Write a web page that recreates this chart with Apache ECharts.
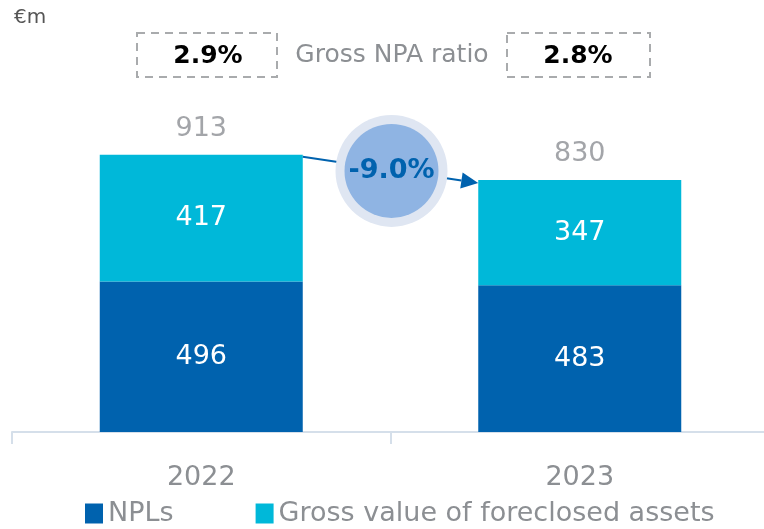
<!DOCTYPE html>
<html>
<head>
<meta charset="utf-8">
<script src="https://cdn.jsdelivr.net/npm/echarts@6/dist/echarts.min.js"></script>
<style>
  html, body { margin: 0; padding: 0; background: #fff; }
  #main { width: 764px; height: 529px; }
</style>
</head>
<body>
<div id="main"></div>
<script>
// data
var years = ['2022', '2023'];
var npls = [496, 483];
var foreclosed = [417, 347];
var totals = [913, 830];
var npaRatio = ['2.9%', '2.8%'];
var change = '-9.0%';

var FONT = 'DejaVu Sans';
var GREY = '#8c8f93';
var DARK = '#0062ae';
var CYAN = '#00b8d9';
var BAR_W = 203;

var myChart = echarts.init(document.getElementById('main'));

// arrow + bubble between the two totals, placed through the axes
function renderChange(params, api) {
    var a = api.coord([0, api.value(1)]);
    var b = api.coord([1, api.value(2)]);
    var x1 = a[0] + BAR_W / 2, y1 = a[1] + 2;
    var x2 = b[0] - BAR_W / 2, y2 = b[1] + 3;
    var cx = (x1 + x2) / 2 + 1, cy = (y1 + y2) / 2 + 1;
    var ang = Math.atan2(y2 - y1, x2 - x1);
    var hl = 17, hw = 8;
    var bx = x2 - hl * Math.cos(ang), by = y2 - hl * Math.sin(ang);
    var px = -Math.sin(ang) * hw, py = Math.cos(ang) * hw;
    return {
        type: 'group',
        children: [
            { type: 'line', shape: { x1: x1, y1: y1, x2: bx, y2: by },
              style: { stroke: DARK, lineWidth: 2 } },
            { type: 'polygon', shape: { points: [[x2, y2], [bx + px, by + py], [bx - px, by - py]] },
              style: { fill: DARK } },
            { type: 'circle', shape: { cx: cx, cy: cy, r: 56 }, style: { fill: '#dfe6f2' } },
            { type: 'circle', shape: { cx: cx, cy: cy, r: 47 }, style: { fill: '#8fb4e3' } },
            { type: 'text', x: cx, y: cy,
              style: { text: change, fill: DARK, font: 'bold 27px "' + FONT + '"',
                       align: 'center', verticalAlign: 'middle' } }
        ]
    };
}

var option = {
    animation: false,
    grid: { left: 12, right: -5, top: 98, bottom: 97, outerBoundsMode: 'none' },
    legend: {
        data: ['NPLs', 'Gross value of foreclosed assets'],
        left: 80,
        bottom: -3,
        icon: 'rect',
        itemWidth: 18,
        itemHeight: 20,
        itemGap: 82,
        textStyle: { color: GREY, fontSize: 27, fontFamily: FONT }
    },
    graphic: [
        { type: 'text', left: 14, top: 8,
          style: { text: '€m', fill: '#555', font: '20px "' + FONT + '"' } },
        { type: 'rect', shape: { x: 137, y: 33, width: 140, height: 44 },
          style: { fill: 'none', stroke: '#a9abad', lineWidth: 2, lineDash: [8, 6] } },
        { type: 'text', x: 208, y: 56,
          style: { text: npaRatio[0], fill: '#000', font: 'bold 25px "' + FONT + '"',
                   align: 'center', verticalAlign: 'middle' } },
        { type: 'text', x: 392, y: 55,
          style: { text: 'Gross NPA ratio', fill: GREY, font: '25px "' + FONT + '"',
                   align: 'center', verticalAlign: 'middle' } },
        { type: 'rect', shape: { x: 507, y: 33, width: 143, height: 44 },
          style: { fill: 'none', stroke: '#a9abad', lineWidth: 2, lineDash: [8, 6] } },
        { type: 'text', x: 578, y: 56,
          style: { text: npaRatio[1], fill: '#000', font: 'bold 25px "' + FONT + '"',
                   align: 'center', verticalAlign: 'middle' } }
    ],
    xAxis: {
        type: 'category',
        data: years,
        axisLine: { lineStyle: { color: '#d5dfea', width: 2 } },
        axisTick: { show: true, length: 12, lineStyle: { color: '#d5dfea', width: 2 } },
        axisLabel: { margin: 32, fontSize: 27, color: GREY, fontFamily: FONT }
    },
    yAxis: { type: 'value', min: 0, max: 1100, show: false },
    series: [
        {
            name: 'NPLs',
            type: 'bar',
            stack: 'total',
            barWidth: BAR_W,
            data: npls,
            itemStyle: { color: DARK },
            label: { show: true, position: 'inside', color: '#fff', fontSize: 27, fontFamily: FONT }
        },
        {
            name: 'Gross value of foreclosed assets',
            type: 'bar',
            stack: 'total',
            barWidth: BAR_W,
            data: foreclosed,
            itemStyle: { color: CYAN },
            label: { show: true, position: 'inside', color: '#fff', fontSize: 27, fontFamily: FONT }
        },
        {
            name: 'total',
            type: 'scatter',
            symbolSize: 0,
            data: totals,
            silent: true,
            label: { show: true, position: 'top', distance: 12, formatter: '{c}',
                     color: GREY, fontSize: 27, fontFamily: FONT }
        },
        {
            name: 'change',
            type: 'custom',
            silent: true,
            z: 10,
            renderItem: renderChange,
            encode: { x: 0, y: 1 },
            data: [[0, totals[0], totals[1]]]
        }
    ]
};
myChart.setOption(option);
</script>
</body>
</html>
